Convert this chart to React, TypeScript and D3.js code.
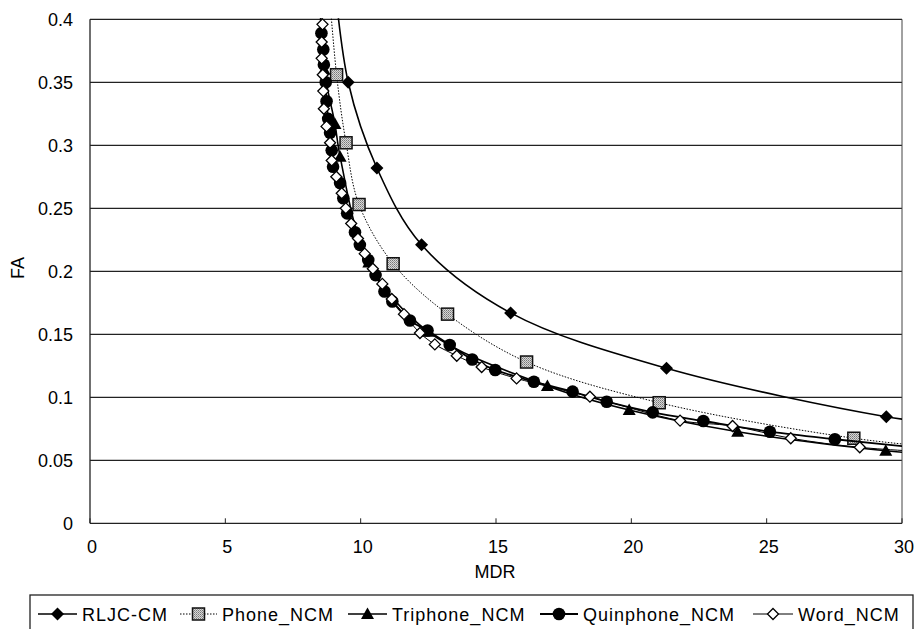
import React from 'react';
import * as d3 from 'd3';

// values (MDR, FA); points past the frame are clipped
const rljcCM: [number, number][] = [
  [8.9, 0.46], [9.54, 0.35], [10.6, 0.282], [12.25, 0.221], [15.54, 0.167],
  [21.3, 0.123], [29.42, 0.0846], [31.5, 0.079],
];
const phoneNCM: [number, number][] = [
  [8.7, 0.46], [9.11, 0.356], [9.46, 0.302], [9.94, 0.253], [11.2, 0.206],
  [13.21, 0.166], [16.13, 0.128], [21.03, 0.0957], [28.22, 0.0675], [31.5, 0.06],
];
const triphoneNCM: [number, number][] = [
  [8.5, 0.42], [8.65, 0.36], [9.05, 0.317], [9.24, 0.291], [10.3, 0.207],
  [12.5, 0.152], [16.9, 0.109], [19.92, 0.0899], [23.93, 0.0727], [29.4, 0.0576], [31.5, 0.054],
];
const quinphoneNCM: [number, number][] = [
  [8.5, 0.42], [8.55, 0.389], [8.62, 0.376], [8.64, 0.364], [8.71, 0.35], [8.74, 0.335],
  [8.8, 0.321], [8.87, 0.31], [8.93, 0.296], [8.98, 0.283], [9.24, 0.27], [9.36, 0.258],
  [9.5, 0.246], [9.79, 0.231], [9.97, 0.221], [10.28, 0.209], [10.55, 0.197], [10.88, 0.184],
  [11.17, 0.176], [11.82, 0.161], [12.47, 0.153], [13.29, 0.1415], [14.12, 0.13], [14.97, 0.1217],
  [16.4, 0.1124], [17.83, 0.1045], [19.09, 0.0965], [20.79, 0.088], [22.66, 0.0812],
  [25.12, 0.0727], [27.52, 0.0667], [31.5, 0.058],
];
const wordNCM: [number, number][] = [
  [8.55, 0.42], [8.59, 0.396], [8.56, 0.382], [8.56, 0.369], [8.6, 0.356], [8.62, 0.343],
  [8.64, 0.329], [8.74, 0.315], [8.87, 0.302], [8.93, 0.288], [9.1, 0.275], [9.3, 0.262],
  [9.45, 0.25], [9.65, 0.238], [9.9, 0.226], [10.15, 0.214], [10.45, 0.202], [10.8, 0.19],
  [11.15, 0.178], [11.6, 0.166], [12.19, 0.151], [12.74, 0.142], [13.55, 0.133], [14.47, 0.124],
  [15.76, 0.115], [18.47, 0.1005], [21.8, 0.0815], [23.74, 0.0772], [25.89, 0.0675],
  [28.44, 0.0603], [31.5, 0.056],
];

const xTicks = [0, 5, 10, 15, 20, 25, 30];
const yTicks = [0, 0.05, 0.1, 0.15, 0.2, 0.25, 0.3, 0.35, 0.4];
const seriesNames = ['RLJC-CM', 'Phone_NCM', 'Triphone_NCM', 'Quinphone_NCM', 'Word_NCM'];

const W = 915;
const H = 629;
const left = 90, right = 902, top = 19.3, bottom = 523.3;
const font = '"Liberation Sans", Arial, sans-serif';

const x = d3.scaleLinear().domain([0, 30]).range([left, right]);
const y = d3.scaleLinear().domain([0, 0.4]).range([bottom, top]);
const line = d3.line<[number, number]>()
  .x(d => x(d[0]))
  .y(d => y(d[1]))
  .curve(d3.curveCatmullRom.alpha(0.5));

type Kind = 'diamond' | 'square' | 'triangle' | 'circle' | 'open';

const Marker = ({ kind, cx, cy }: { kind: Kind; cx: number; cy: number }) => {
  if (kind === 'diamond')
    return <path d={`M${cx},${cy - 6.5}L${cx + 6.5},${cy}L${cx},${cy + 6.5}L${cx - 6.5},${cy}Z`} fill="#000" />;
  if (kind === 'open')
    return <path d={`M${cx},${cy - 5.5}L${cx + 5.5},${cy}L${cx},${cy + 5.5}L${cx - 5.5},${cy}Z`} fill="#fff" stroke="#000" strokeWidth={1.3} />;
  if (kind === 'square')
    return <rect x={cx - 6} y={cy - 6} width={12} height={12} fill="url(#hatch)" stroke="#111" strokeWidth={1.5} />;
  if (kind === 'triangle')
    return <path d={`M${cx},${cy - 6.5}L${cx + 6.5},${cy + 5}L${cx - 6.5},${cy + 5}Z`} fill="#000" />;
  return <circle cx={cx} cy={cy} r={6.3} fill="#000" />;
};

const series = [
  { name: seriesNames[0], data: rljcCM, kind: 'diamond' as Kind, width: 1.6, dash: undefined },
  { name: seriesNames[1], data: phoneNCM, kind: 'square' as Kind, width: 1, dash: '1.5,1.5' },
  { name: seriesNames[2], data: triphoneNCM, kind: 'triangle' as Kind, width: 1.6, dash: undefined },
  { name: seriesNames[3], data: quinphoneNCM, kind: 'circle' as Kind, width: 1.8, dash: undefined },
  { name: seriesNames[4], data: wordNCM, kind: 'open' as Kind, width: 1, dash: undefined },
];

// legend item positions (sample start, text start)
const legendX = [[38, 82], [180, 222], [348, 392], [540, 583], [753, 798]];

export default function App() {
  return (
    <svg width={W} height={H} style={{ position: 'absolute', left: 0, top: 0, background: '#fff' }}
      fontFamily={font}>
      <defs>
        <clipPath id="plot">
          <rect x={left} y={top - 1} width={right - left} height={bottom - top + 1} />
        </clipPath>
        <pattern id="hatch" width={2} height={2} patternUnits="userSpaceOnUse">
          <rect width={2} height={2} fill="#d8d8d8" />
          <rect width={1} height={1} fill="#777" />
          <rect x={1} y={1} width={1} height={1} fill="#999" />
        </pattern>
      </defs>

      {yTicks.map(t => (
        <g key={t}>
          <line x1={left} x2={right} y1={y(t)} y2={y(t)} stroke="#222" strokeWidth={1.3} />
          <text x={73} y={y(t) + 6.5} textAnchor="end" fontSize={18}>{t}</text>
        </g>
      ))}
      <line x1={left} x2={left} y1={top} y2={bottom} stroke="#222" strokeWidth={1.3} />
      <line x1={right} x2={right} y1={top} y2={bottom} stroke="#444" strokeWidth={1} />
      {xTicks.map(t => (
        <g key={t}>
          <line x1={x(t)} x2={x(t)} y1={bottom} y2={bottom - 5} stroke="#222" strokeWidth={1} />
          <text x={x(t) + 2} y={553} textAnchor="middle" fontSize={18}>{t}</text>
        </g>
      ))}
      <text x={495} y={578} textAnchor="middle" fontSize={18}>MDR</text>
      <text transform="translate(24,268) rotate(-90)" textAnchor="middle" fontSize={18}>FA</text>

      <g clipPath="url(#plot)">
        {series.map(s => (
          <g key={s.name}>
            <path d={line(s.data) ?? ''} fill="none" stroke="#000" strokeWidth={s.width}
              strokeDasharray={s.dash} />
            {s.data
              .filter(d => d[0] <= 30 && d[1] <= 0.4)
              .map((d, i) => <Marker key={i} kind={s.kind} cx={x(d[0])} cy={y(d[1])} />)}
          </g>
        ))}
      </g>

      <rect x={30} y={595} width={883} height={50} fill="none" stroke="#222" strokeWidth={1.3} />
      {series.map((s, i) => {
        const [sx, tx] = legendX[i];
        const ly = 614;
        return (
          <g key={s.name}>
            <line x1={sx} x2={tx - 5} y1={ly} y2={ly} stroke="#000" strokeWidth={s.width}
              strokeDasharray={s.dash} />
            <Marker kind={s.kind} cx={(sx + tx - 5) / 2} cy={ly} />
            <text x={tx} y={ly + 6.5} fontSize={18} letterSpacing={1}>{s.name}</text>
          </g>
        );
      })}
    </svg>
  );
}
